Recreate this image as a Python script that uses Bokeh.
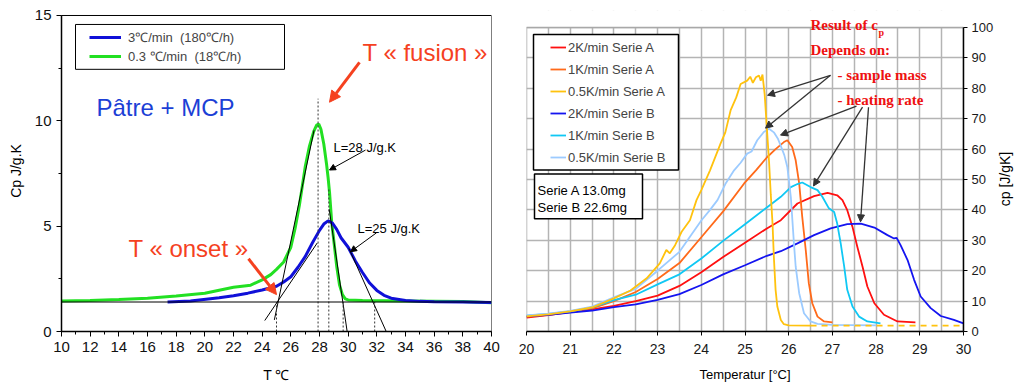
import math
from bokeh.plotting import figure
from bokeh.models import (Range1d, SingleIntervalTicker, Label, Arrow, NormalHead,
                          Legend, LegendItem, Span)
from bokeh.layouts import row
from bokeh.embed import file_html
from bokeh.resources import INLINE

# ---------------- LEFT PANEL DATA (Cp J/g.K vs T degC) ----------------
green_T = [10, 12, 14, 16, 18, 20, 22, 23.2, 24, 24.6, 25, 25.5, 26, 26.3, 26.6, 26.8, 27.0,
           27.3, 27.6, 27.8, 27.95, 28.1, 28.3, 28.5, 28.6, 28.7, 28.85, 29.0, 29.2, 29.4,
           29.6, 29.8, 30.0, 31, 34, 38, 40]
green_cp = [1.45, 1.47, 1.52, 1.58, 1.68, 1.82, 2.1, 2.2, 2.45, 2.7, 2.95, 3.3, 4.0, 4.9, 6.0,
            6.9, 7.8, 8.8, 9.5, 9.8, 9.85, 9.6, 8.9, 7.9, 7.3, 6.6, 5.2, 4.3, 3.1, 2.2,
            1.75, 1.55, 1.5, 1.47, 1.45, 1.42, 1.36]
blue_T = [17.4, 19, 21, 22, 23, 24, 25, 25.5, 26, 26.5, 27, 27.5, 28, 28.3, 28.6, 28.9, 29.2,
          29.5, 30, 30.5, 31, 31.5, 32, 32.5, 33, 34, 35, 36, 38, 40]
blue_cp = [1.40, 1.45, 1.6, 1.7, 1.82, 1.97, 2.15, 2.35, 2.6, 3.05, 3.55, 4.2, 4.8, 5.1, 5.25,
           5.15, 4.85, 4.45, 4.0, 3.35, 2.8, 2.3, 1.95, 1.72, 1.58, 1.47, 1.43, 1.41, 1.4, 1.38]
baseline_cp = 1.4
# tangents (construction lines)
tan_x0 = [24.85, 24.18, 28.68, 30.05]
tan_y0 = [0.55, 0.52, 5.8, 3.95]
tan_x1 = [27.62, 27.84, 29.95, 32.72]
tan_y1 = [9.55, 4.2, -0.1, -0.1]
# dotted verticals
dot_T = [25.0, 27.9, 28.65, 29.65, 31.85]
dot_top = [1.4, 11.05, 6.8, 1.4, 1.4]
left_legend = ["3\u2103/min  (180\u2103/h)", "0.3 \u2103/min  (18\u2103/h)"]
left_x_range = (10, 40)
left_y_range = (0, 15)

# ---------------- RIGHT PANEL DATA (cp J/gK vs Temperatur) ----------------
yA05_T = [20.0, 20.5, 21.0, 21.5, 22.0, 22.38, 22.75, 23.05, 23.2, 23.28, 23.4, 23.55, 23.74,
          23.89, 24.0, 24.2, 24.44, 24.55, 24.67, 24.8, 24.9, 25.05, 25.12, 25.18, 25.25,
          25.32, 25.36, 25.4, 25.45, 25.5, 25.55, 25.59, 25.63, 25.66, 25.70, 25.74, 25.82,
          25.89, 26.0, 26.5]
yA05_cp = [5.0, 5.6, 6.6, 7.9, 10.9, 13.5, 17.5, 22.4, 26.8, 25.7, 28.4, 32.8, 36.6, 43.2,
           46.5, 53.0, 61.8, 65.5, 72.7, 77.0, 81.4, 82.5, 83.8, 81.8, 83.6, 84.2, 82.5, 84.5,
           78.0, 67.0, 56.0, 45.0, 35.5, 24.6, 13.7, 8.2, 3.8, 2.4, 2.0, 1.9]
yA05_tail_T = [26.5, 30.0]
yA05_tail_cp = [1.9, 1.9]
lbB05_T = [20, 20.5, 21, 21.5, 22, 22.5, 23, 23.5, 24, 24.2, 24.37, 24.55, 24.75, 24.9, 25.05,
           25.15, 25.28, 25.43, 25.55, 25.66, 25.75, 25.82, 25.9, 25.97, 26.05, 26.12, 26.16,
           26.24, 26.35, 26.5, 26.66, 27.0, 28.0]
lbB05_cp = [5.3, 5.9, 6.8, 8.2, 11.2, 14.0, 20.0, 26.2, 36.5, 40.0, 43.2, 48.5, 53.0, 55.5,
            58.5, 59.2, 62.9, 65.6, 66.7, 65.5, 63.5, 61.0, 58.0, 54.0, 44.0, 29.0, 21.3,
            12.6, 6.0, 3.3, 2.5, 2.2, 2.0]
orA1_T = [20, 20.5, 21, 21.5, 22, 22.5, 23, 23.5, 24, 24.5, 24.98, 25.25, 25.51, 25.7, 25.89,
          25.97, 26.08, 26.16, 26.24, 26.31, 26.39, 26.46, 26.54, 26.66, 26.81, 27.0]
orA1_cp = [4.9, 5.5, 6.5, 7.6, 10.0, 13.0, 17.3, 22.5, 31.0, 39.5, 48.7, 53.0, 57.4, 60.0, 62.3,
           62.9, 60.7, 56.3, 48.7, 37.7, 26.8, 15.9, 9.3, 4.9, 3.3, 3.0]
cyB1_T = [20, 20.5, 21, 21.5, 22, 22.5, 23, 23.5, 24, 24.5, 25.0, 25.5, 25.82, 26.05, 26.2,
          26.31, 26.5, 26.66, 26.77, 26.92, 27.04, 27.11, 27.19, 27.27, 27.34, 27.46, 27.61,
          27.8, 28.1]
cyB1_cp = [5.2, 5.8, 6.6, 7.9, 10.3, 12.1, 15.5, 18.8, 24.0, 29.8, 35.3, 40.8, 44.3, 47.5, 48.5,
           49.0, 47.5, 46.5, 44.3, 40.5, 39.3, 35.5, 29.0, 21.3, 13.7, 8.2, 4.9, 3.3, 2.7]
rdA2_T = [20, 20.5, 21, 21.5, 22, 22.5, 23, 23.5, 24, 24.5, 25, 25.5, 25.82, 26.2, 26.58, 26.89,
          27.11, 27.23, 27.34, 27.46, 27.57, 27.69, 27.8, 27.96, 28.18, 28.49, 28.9]
rdA2_cp = [4.6, 5.4, 6.4, 7.3, 8.4, 10.0, 11.8, 15.0, 19.5, 24.5, 29.2, 33.9, 36.6, 42.1, 44.5,
           45.6, 44.8, 43.2, 39.9, 34.4, 27.9, 21.3, 14.8, 9.3, 5.5, 3.3, 3.0]
blB2_T = [20, 20.5, 21, 21.5, 22, 22.5, 23, 23.5, 24, 24.5, 25, 25.5, 25.82, 26.2, 26.58, 26.96,
          27.34, 27.65, 27.96, 28.26, 28.41, 28.47, 28.56, 28.72, 28.87, 29.02, 29.25, 29.48,
          29.78, 30.0]
blB2_cp = [5.0, 5.5, 6.2, 6.9, 8.0, 8.9, 10.4, 12.3, 15.3, 18.8, 21.8, 24.9, 26.4, 29.0, 31.7,
           33.9, 35.3, 35.5, 34.2, 31.7, 30.6, 30.8, 28.4, 23.5, 17.0, 11.5, 7.7, 5.1, 3.8, 2.7]
right_legend = ["2K/min Serie A", "1K/min Serie A", "0.5K/min Serie A",
                "2K/min Serie B", "1K/min Serie B", "0.5K/min Serie B"]
right_x_range = (20, 30)
right_y_range = (0, 100)
right_x_ticks = list(range(20, 31))
right_y_ticks = list(range(0, 101, 10))
right_y_title = "cp [J/gK]"

SANS = "Liberation Sans"
SERIF = "Liberation Serif"
RED = "#f5411f"
TOP = 10          # common top border (row aligns the frames)
BOT = 53

# ================= LEFT FIGURE =================
LW, LH = 505, 385
lb_l, lb_r = 61, 14
l_ppx = 430 / 30.0          # px per degC
l_ppy = 317 / 15.0          # px per J/g.K
l_ytop = (LH - BOT - TOP) / l_ppy
pl = figure(width=LW, height=LH, x_range=Range1d(*left_x_range),
            y_range=Range1d(left_y_range[0], l_ytop),
            output_backend="svg", toolbar_location=None, title_location=None,
            min_border_left=lb_l, min_border_right=lb_r, min_border_top=TOP,
            min_border_bottom=BOT)
pl.grid.visible = False
pl.outline_line_color = None
pl.background_fill_color = "white"
pl.border_fill_color = "white"
pl.xaxis.ticker = SingleIntervalTicker(interval=2, num_minor_ticks=2)
pl.yaxis.ticker = SingleIntervalTicker(interval=5, num_minor_ticks=2)
pl.yaxis.bounds = left_y_range
for ax in (pl.xaxis, pl.yaxis):
    ax.axis_line_color = "black"
    ax.axis_line_width = 1.5
    ax.major_tick_in = 0
    ax.major_tick_out = 5
    ax.minor_tick_in = 0
    ax.minor_tick_out = 3
    ax.major_tick_line_color = "black"
    ax.minor_tick_line_color = "black"
    ax.major_label_text_font = SANS
    ax.major_label_text_font_size = "15px"
    ax.major_label_text_color = "#111111"
    ax.major_label_standoff = 5
    ax.axis_label_text_font = SANS
    ax.axis_label_text_font_size = "14px"
    ax.axis_label_text_font_style = "normal"
    ax.axis_label_text_color = "black"
pl.yaxis.axis_label = "Cp J/g.K"
pl.yaxis.axis_label_standoff = 8
pl.xaxis.axis_label = "T \u2103"
pl.xaxis.axis_label_standoff = 12


def L(px, py):
    return 10 + (px - lb_l) / l_ppx, (LH - BOT - py) / l_ppy


# frame border (top / right)
pl.quad(left=[left_x_range[0]], right=[left_x_range[1]], top=[left_y_range[1]],
        bottom=[left_y_range[0]], fill_color=None, line_color="black", line_width=1)
pl.add_layout(Span(location=baseline_cp, dimension="width", line_color="black", line_width=1.2))
rg = pl.line(green_T, green_cp, line_color="#22e022", line_width=3)
rb = pl.line(blue_T, blue_cp, line_color="#1010d8", line_width=3)
pl.segment(tan_x0, tan_y0, tan_x1, tan_y1, line_color="black", line_width=1)
pl.segment(dot_T, [0] * len(dot_T), dot_T, dot_top, line_color="#333333", line_width=1,
           line_dash="2 2")

# legend box
bx0, by0 = L(75, 24)
bx1, by1 = L(284, 69)
pl.quad(left=[bx0], right=[bx1], top=[by0], bottom=[by1], fill_color="white",
        line_color="black", line_width=1)
legL = Legend(items=[LegendItem(label=left_legend[0], renderers=[rb]),
                     LegendItem(label=left_legend[1], renderers=[rg])],
              location=(26, 264), padding=2, spacing=1, glyph_width=32, glyph_height=18,
              label_height=18, label_standoff=7, margin=0,
              label_text_font=SANS, label_text_font_size="13px",
              border_line_alpha=0, background_fill_alpha=0)
pl.add_layout(legL)


def lab(p, conv, px, py, text, size, color="black", font=SANS, style="normal",
        align="left", baseline="alphabetic", angle=0.0):
    x, y = conv(px, py)
    p.add_layout(Label(x=x, y=y, text=text, text_font=font, text_font_size=size,
                       text_color=color, text_font_style=style, text_align=align,
                       text_baseline=baseline, angle=angle))


def arrow(p, conv, p0, p1, color, width, size):
    x0, y0 = conv(*p0)
    x1, y1 = conv(*p1)
    p.add_layout(Arrow(x_start=x0, y_start=y0, x_end=x1, y_end=y1, line_color=color,
                       line_width=width,
                       end=NormalHead(size=size, fill_color=color, line_color=color)))


lab(pl, L, 96, 107, "P\u00e2tre + MCP", "24px", "#1c3fd6")
lab(pl, L, 362, 52, "T \u00ab fusion \u00bb", "24px", RED)
lab(pl, L, 128, 249, "T \u00ab onset \u00bb", "24px", RED)
lab(pl, L, 333, 147, "L=28 J/g.K", "13px")
lab(pl, L, 357, 229, "L=25 J/g.K", "13px")
arrow(pl, L, (359, 62), (329, 102), RED, 3, 11)
arrow(pl, L, (248, 259), (276, 295), RED, 3, 11)
arrow(pl, L, (365, 150), (329, 170), "black", 1, 6)
arrow(pl, L, (376, 233), (350, 252), "black", 1, 6)

# ================= RIGHT FIGURE =================
OFF = 505
RW, RH = 996 - OFF, 385
rb_l = 21
rb_r = RW - (963 - OFF)
r_ppx = 437 / 10.0
r_ppy = 305 / 100.0
r_ytop = (RH - BOT - TOP) / r_ppy
pr = figure(width=RW, height=RH, x_range=Range1d(*right_x_range),
            y_range=Range1d(right_y_range[0], r_ytop),
            output_backend="svg", toolbar_location=None, title_location=None,
            y_axis_location="right",
            min_border_left=rb_l, min_border_right=rb_r, min_border_top=TOP,
            min_border_bottom=BOT)
pr.background_fill_color = "white"
pr.border_fill_color = "white"
pr.outline_line_color = None
pr.xaxis.ticker = right_x_ticks
pr.yaxis.ticker = right_y_ticks
pr.yaxis.bounds = right_y_range
pr.xgrid.ticker = SingleIntervalTicker(interval=0.5)
pr.ygrid.ticker = SingleIntervalTicker(interval=10)
pr.grid.grid_line_color = "#b4b4b4"
pr.grid.grid_line_width = 1.5
for ax in (pr.xaxis, pr.yaxis):
    ax.axis_line_color = "black"
    ax.axis_line_width = 1.5
    ax.major_tick_in = 0
    ax.major_tick_out = 4
    ax.minor_tick_line_color = None
    ax.major_tick_line_color = "black"
    ax.major_label_text_font = SANS
    ax.major_label_text_font_size = "14px"
    ax.major_label_text_color = "#1a1a1a"
    ax.major_label_standoff = 5
    ax.axis_label_text_font = SANS
    ax.axis_label_text_font_style = "normal"
    ax.axis_label_text_color = "black"
pr.yaxis.major_label_text_font_size = "13px"
pr.yaxis.major_label_standoff = 4
pr.xaxis.major_label_standoff = 8
pr.xaxis.axis_label = "Temperatur [\u00b0C]"
pr.xaxis.axis_label_text_font_size = "13px"
pr.xaxis.axis_label_standoff = 10


def R(px, py):
    return 20 + (px - OFF - rb_l) / r_ppx, (RH - BOT - py) / r_ppy


# mask above the 100 line and gray frame border
pr.quad(left=[19.5], right=[30.5], top=[r_ytop + 1], bottom=[right_y_range[1]],
        fill_color="white", line_color=None)
pr.quad(left=[right_x_range[0]], right=[right_x_range[1]], top=[right_y_range[1]],
        bottom=[right_y_range[0]], fill_color=None, line_color="#a8a8a8", line_width=1.5)

lw = 1.8
r_rdA2 = pr.line(rdA2_T, rdA2_cp, line_color="#ff1010", line_width=lw)
r_orA1 = pr.line(orA1_T, orA1_cp, line_color="#ff6a1a", line_width=lw)
r_blB2 = pr.line(blB2_T, blB2_cp, line_color="#1414f0", line_width=lw)
r_cyB1 = pr.line(cyB1_T, cyB1_cp, line_color="#10c8f4", line_width=lw)
r_lbB05 = pr.line(lbB05_T, lbB05_cp, line_color="#9ccbff", line_width=lw)
r_yA05 = pr.line(yA05_T, yA05_cp, line_color="#ffc20e", line_width=lw)
pr.line(yA05_tail_T, yA05_tail_cp, line_color="#ffc20e", line_width=lw, line_dash="6 5")

# legend box and series box
for (a, b, c, d) in [(533, 34, 678, 170), (534, 174, 642, 219)]:
    x0, y0 = R(a, b)
    x1, y1 = R(c, d)
    pr.quad(left=[x0], right=[x1], top=[y0], bottom=[y1], fill_color="white",
            line_color="black", line_width=1.5)
rends = [r_rdA2, r_orA1, r_yA05, r_blB2, r_cyB1, r_lbB05]
legR = Legend(items=[LegendItem(label=t, renderers=[r]) for t, r in zip(right_legend, rends)],
              location=(20, 160), padding=4, spacing=2, glyph_width=16, glyph_height=20,
              label_height=20, label_standoff=2, margin=0,
              label_text_font=SANS, label_text_font_size="13px",
              border_line_alpha=0, background_fill_alpha=0)
pr.add_layout(legR)

RR = "#ee1111"
lab(pr, R, 537, 190.5, "Serie A 13.0mg", "13px")
lab(pr, R, 537, 207.5, "Serie B 22.6mg", "13px")
lab(pr, R, 810, 24.5, "Result of c", "15px", RR, SERIF, "bold")
lab(pr, R, 878, 32, "p", "10px", RR, SERIF, "bold")
lab(pr, R, 810, 49.5, "Depends on:", "15px", RR, SERIF, "bold")
lab(pr, R, 837, 74.5, "- sample mass", "15px", RR, SERIF, "bold")
lab(pr, R, 837, 100, "- heating rate", "15px", RR, SERIF, "bold")
AC = "#333333"
arrow(pr, R, (830, 75), (767, 95), AC, 1.3, 7)
arrow(pr, R, (830, 75), (765, 128), AC, 1.3, 7)
arrow(pr, R, (856, 106), (780, 135), AC, 1.3, 7)
arrow(pr, R, (862, 107), (813, 186), AC, 1.3, 7)
arrow(pr, R, (868, 107), (860, 222), AC, 1.3, 7)

# ================= narrow strip holding the right axis title =================
OFF2 = OFF + RW
SW = 1014 - OFF2
ps = figure(width=SW, height=RH, x_range=Range1d(0, SW), y_range=Range1d(BOT, RH - TOP),
            output_backend="svg", toolbar_location=None, title_location=None,
            x_axis_type=None, y_axis_type=None,
            min_border_left=0, min_border_right=0, min_border_top=TOP,
            min_border_bottom=BOT)
ps.grid.visible = False
ps.outline_line_color = None
ps.background_fill_color = "white"
ps.border_fill_color = "white"


def S(px, py):
    return px - OFF2, RH - py


lab(ps, S, 1004, 179, right_y_title, "14px", align="center", baseline="middle",
    angle=math.pi / 2)

layout = row(pl, pr, ps)
open("out.html", "w").write(file_html(layout, INLINE))
